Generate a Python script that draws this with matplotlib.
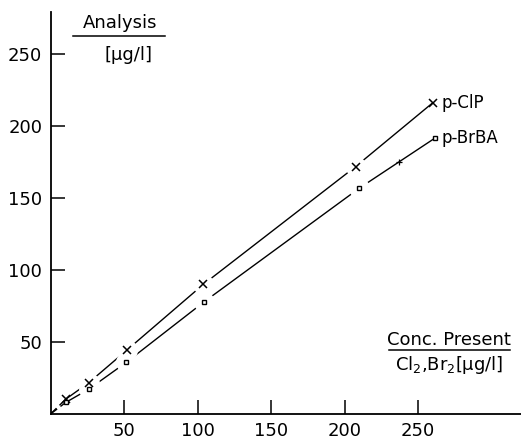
import numpy as np
import matplotlib
matplotlib.use("Agg")
import matplotlib.pyplot as plt
from matplotlib.lines import Line2D

plt.rcParams['font.family'] = 'DejaVu Sans'

# p-ClP (x markers)
clp_x = [10.5, 26, 52, 104, 207.5, 260]
clp_y = [10.4, 21.7, 44.4, 90, 171.7, 216]

# p-BrBA (square markers)
brba_x = [10.5, 26, 51.6, 104.4, 210, 261.5]
brba_y = [8.1, 17.2, 35.9, 77.8, 156.7, 191.5]
# small cross mark on the p-BrBA line
brba_extra = (237, 174.8)

xticks = [50, 100, 150, 200, 250]
yticks = [50, 100, 150, 200, 250]

W, H = 521, 440
fig = plt.figure(figsize=(W / 100, H / 100), dpi=100)
ax = fig.add_axes([50.5 / W, 26 / H, 1 - 50.5 / W, 402 / H])
ax.set_xlim(0, 320)
ax.set_ylim(0, 279)

lw = 1.0
for xs, ys, mk, ms in [(clp_x, clp_y, 'x', 6), (brba_x, brba_y, 's', 3.5)]:
    # dashed part from origin to first point
    ax.plot([0, xs[0]], [0, ys[0]], color='black', lw=lw, ls=(0, (6, 3)), zorder=1)
    ax.plot(xs, ys, color='black', lw=lw, zorder=1)
    # white gaps around markers
    ax.plot(xs[1:-1], ys[1:-1], ls='none', marker='o', ms=15, mfc='white', mec='none', zorder=2)
    if mk == 's':
        ax.plot(xs, ys, ls='none', marker=mk, ms=ms, mfc='white', mec='black', mew=1.0, zorder=3)
    else:
        ax.plot(xs, ys, ls='none', marker=mk, ms=ms, color='black', mew=1.1, zorder=3)

ax.plot([brba_extra[0]], [brba_extra[1]], ls='none', marker='+', ms=4, color='black', mew=0.9, zorder=3)

ax.text(266, 216, 'p-ClP', fontsize=12, va='center', ha='left')
ax.text(266, 191.5, 'p-BrBA', fontsize=12, va='center', ha='left')

for s in ['top', 'right']:
    ax.spines[s].set_visible(False)
ax.spines['left'].set_linewidth(1.3)
ax.spines['bottom'].set_linewidth(1.3)
ax.set_xticks(xticks)
ax.set_yticks(yticks)
ax.tick_params(direction='in', length=10, width=1.1, labelsize=13, pad=6)

# axis titles with underline
fig.text(120 / W, 1 - 23 / H, 'Analysis', fontsize=13, ha='center', va='center')
fig.add_artist(Line2D([73 / W, 165 / W], [1 - 36 / H, 1 - 36 / H], color='black', lw=1.1))
fig.text(128 / W, 1 - 55 / H, '[µg/l]', fontsize=13, ha='center', va='center')

fig.text(449 / W, 1 - 340 / H, 'Conc. Present', fontsize=13, ha='center', va='center')
fig.add_artist(Line2D([389 / W, 510 / W], [1 - 350 / H, 1 - 350 / H], color='black', lw=1.1))
fig.text(449 / W, 1 - 365 / H, r'Cl$_2$,Br$_2$[µg/l]', fontsize=13, ha='center', va='center')

fig.savefig('out.png', dpi=100)
